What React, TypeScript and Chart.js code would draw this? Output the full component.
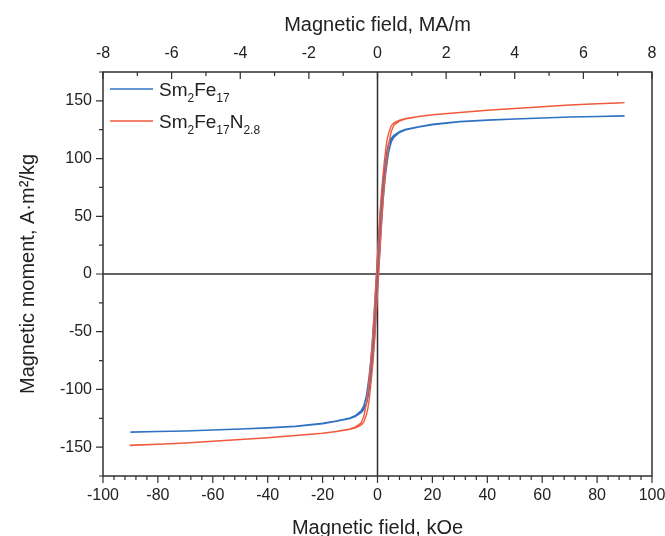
import React, { useEffect, useRef } from "react";
import { Chart, registerables } from "chart.js";

Chart.register(...registerables);

// ---- Data (field in kOe, moment in A·m²/kg); ascending branch of each loop ----
const fieldKOe = [-90, -80, -70, -60, -50, -40, -30, -20, -15, -10, -8, -6, -5, -4, -3.5, -3, -2.5, -2, -1.5, -1, -0.5, 0, 0.5, 1, 1.5, 2, 2.5, 3, 3.5, 4, 5, 6, 8, 10, 15, 20, 30, 40, 50, 60, 70, 80, 90];
const sm2fe17Up = [-137, -136.5, -136, -135.2, -134.3, -133.3, -132, -129.6, -127.6, -125.1, -123.3, -120.1, -117.4, -112, -106.8, -98.8, -90, -79.2, -66.4, -50.8, -32, -12, 8, 28, 47.2, 63.6, 76.8, 88, 96.8, 105.2, 114.6, 118.6, 122.6, 124.7, 127.4, 129.4, 131.9, 133.3, 134.3, 135.2, 136, 136.5, 137];
const sm2fe17n28Up = [-148.5, -147.5, -146.5, -145, -143.5, -142, -140, -138.1, -136.6, -134.6, -133.2, -131, -128.4, -121.6, -116.4, -108, -97.6, -85.4, -72, -56, -36, -16, 4, 24, 44, 63, 77.6, 90.4, 102, 111.6, 123.4, 129.1, 132.5, 134.2, 136.3, 137.9, 139.9, 141.9, 143.4, 144.9, 146.4, 147.4, 148.4];

// legend labels as [text, isSubscript]
const labelSm2Fe17: [string, boolean][] = [["Sm", false], ["2", true], ["Fe", false], ["17", true]];
const labelSm2Fe17N28: [string, boolean][] = [["Sm", false], ["2", true], ["Fe", false], ["17", true], ["N", false], ["2.8", true]];

// ---- Axes ----
const kOeTicks = [-100, -80, -60, -40, -20, 0, 20, 40, 60, 80, 100];
const kOeMinorStep = 4;
const maTicks = [-8, -6, -4, -2, 0, 2, 4, 6, 8];
const maMinorStep = 1;
const momentTicks = [-150, -100, -50, 0, 50, 100, 150];
const momentMinorStep = 25;

const FONT = "'Liberation Sans', Arial, Helvetica, sans-serif";
const AXIS_COLOR = "#303030";
const TEXT_COLOR = "#222";
const BLUE = "#2f72c4";
const RED = "#f05a3c";

function loop(fields: number[], moments: number[]) {
  const down = fields.map((f, i) => ({ x: -f, y: -moments[i] }));
  const up = fields.map((f, i) => ({ x: f, y: moments[i] }));
  return [...down, ...up];
}

function drawRichLabel(ctx: CanvasRenderingContext2D, parts: [string, boolean][], x: number, y: number) {
  let cx = x;
  for (const [t, sub] of parts) {
    ctx.font = sub ? `12px ${FONT}` : `19px ${FONT}`;
    ctx.fillText(t, cx, sub ? y + 6 : y);
    cx += ctx.measureText(t).width;
  }
}

const decorPlugin = {
  id: "decor",
  beforeDatasetsDraw(chart: any) {
    const { ctx, chartArea, scales } = chart;
    const { left, right, top, bottom } = chartArea;
    const x0 = scales.x.getPixelForValue(0);
    const y0 = scales.y.getPixelForValue(0);
    ctx.save();
    ctx.strokeStyle = AXIS_COLOR;
    ctx.lineWidth = 1.5;
    ctx.beginPath();
    ctx.moveTo(x0, top);
    ctx.lineTo(x0, bottom);
    ctx.moveTo(left, y0);
    ctx.lineTo(right, y0);
    ctx.stroke();
    ctx.restore();
  },
  afterDatasetsDraw(chart: any) {
    const { ctx, chartArea, scales } = chart;
    const { left, right, top, bottom } = chartArea;
    ctx.save();
    ctx.strokeStyle = AXIS_COLOR;
    ctx.lineWidth = 1.5;
    ctx.strokeRect(left, top, right - left, bottom - top);
    ctx.lineWidth = 1.2;
    ctx.beginPath();
    // bottom ticks (outward)
    const xs = scales.x;
    for (let v = xs.min; v <= xs.max + 1e-9; v += kOeMinorStep) {
      const major = kOeTicks.includes(Math.round(v));
      const px = xs.getPixelForValue(v);
      ctx.moveTo(px, bottom);
      ctx.lineTo(px, bottom + (major ? 7 : 4));
    }
    // top ticks (inward)
    const xt = scales.x2;
    for (let v = xt.min; v <= xt.max + 1e-9; v += maMinorStep) {
      const major = maTicks.includes(Math.round(v));
      const px = xt.getPixelForValue(v);
      ctx.moveTo(px, top);
      ctx.lineTo(px, top + (major ? 7 : 4));
    }
    // left ticks (outward)
    const ys = scales.y;
    for (let v = ys.min; v <= ys.max + 1e-9; v += momentMinorStep) {
      const major = momentTicks.includes(Math.round(v));
      const py = ys.getPixelForValue(v);
      ctx.moveTo(left, py);
      ctx.lineTo(left - (major ? 7 : 4), py);
    }
    ctx.stroke();

    // legend
    const entries = [
      { parts: labelSm2Fe17, color: BLUE },
      { parts: labelSm2Fe17N28, color: RED },
    ];
    entries.forEach((e, i) => {
      const ly = 89 + i * 32;
      ctx.strokeStyle = e.color;
      ctx.lineWidth = 1.5;
      ctx.beginPath();
      ctx.moveTo(110, ly);
      ctx.lineTo(153, ly);
      ctx.stroke();
      ctx.fillStyle = TEXT_COLOR;
      ctx.textBaseline = "alphabetic";
      ctx.textAlign = "left";
      drawRichLabel(ctx, e.parts, 159, ly + 7);
    });
    ctx.restore();
  },
};

export default function App() {
  const ref = useRef<HTMLCanvasElement | null>(null);

  useEffect(() => {
    if (!ref.current) return;
    const tickFont = { size: 16, family: FONT };
    const titleFont = { size: 20, family: FONT, lineHeight: 1 };
    const chart = new Chart(ref.current, {
      type: "scatter",
      data: {
        datasets: [
          {
            label: "Sm2Fe17",
            data: loop(fieldKOe, sm2fe17Up),
            showLine: true,
            borderColor: BLUE,
            backgroundColor: BLUE,
            borderWidth: 1.6,
            pointRadius: 0,
            order: 1,
          },
          {
            label: "Sm2Fe17N2.8",
            data: loop(fieldKOe, sm2fe17n28Up),
            showLine: true,
            borderColor: RED,
            backgroundColor: RED,
            borderWidth: 1.4,
            pointRadius: 0,
            order: 0,
          },
        ],
      },
      options: {
        animation: false,
        responsive: true,
        maintainAspectRatio: false,
        layout: { padding: { left: 0, right: 13, top: 0, bottom: 0 } },
        plugins: { legend: { display: false }, tooltip: { enabled: false } },
        scales: {
          x: {
            type: "linear",
            position: "bottom",
            min: -100,
            max: 100,
            grid: { display: false, drawTicks: false },
            border: { display: false },
            afterBuildTicks: (s: any) => {
              s.ticks = kOeTicks.map((v) => ({ value: v }));
            },
            ticks: { font: tickFont, color: TEXT_COLOR, padding: 10, maxRotation: 0, autoSkip: false, callback: (v: any) => String(v) },
            title: { display: true, text: "Magnetic field, kOe", font: { size: 20, family: FONT, lineHeight: 0.8 }, color: TEXT_COLOR, padding: { top: 0, bottom: 0 } },
            afterFit: (s: any) => {
              s.height = 60;
              s.paddingLeft = 0;
              s.paddingRight = 0;
            },
          },
          x2: {
            type: "linear",
            axis: "x",
            position: "top",
            min: -8,
            max: 8,
            grid: { display: false, drawTicks: false },
            border: { display: false },
            afterBuildTicks: (s: any) => {
              s.ticks = maTicks.map((v) => ({ value: v }));
            },
            ticks: { font: tickFont, color: TEXT_COLOR, padding: 9, maxRotation: 0, autoSkip: false, callback: (v: any) => String(v) },
            title: { display: true, text: "Magnetic field, MA/m", font: titleFont, color: TEXT_COLOR, padding: { top: 15, bottom: 0 } },
            afterFit: (s: any) => {
              s.height = 72;
              s.paddingLeft = 0;
              s.paddingRight = 0;
            },
          },
          y: {
            type: "linear",
            position: "left",
            min: -175,
            max: 175,
            grid: { display: false, drawTicks: false },
            border: { display: false },
            afterBuildTicks: (s: any) => {
              s.ticks = momentTicks.map((v) => ({ value: v }));
            },
            ticks: { font: tickFont, color: TEXT_COLOR, padding: 11, autoSkip: false, callback: (v: any) => String(v) },
            title: { display: true, text: "Magnetic moment, A·m²/kg", font: titleFont, color: TEXT_COLOR, padding: { top: 18, bottom: 0 } },
            afterFit: (s: any) => {
              s.width = 103;
              s.paddingTop = 0;
              s.paddingBottom = 0;
            },
          },
        },
      },
      plugins: [decorPlugin],
    } as any);
    return () => chart.destroy();
  }, []);

  return (
    <div style={{ position: "fixed", left: 0, top: 0, width: 665, height: 536, background: "#fff" }}>
      <canvas ref={ref} />
    </div>
  );
}
